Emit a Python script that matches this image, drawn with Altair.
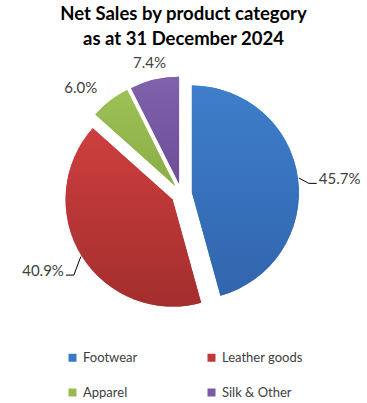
import altair as alt
import pandas as pd

CATEGORIES = ["Footwear", "Leather goods", "Apparel", "Silk & Other"]
SHARES = [45.7, 40.9, 6.0, 7.4]
LABELS = ["45.7%", "40.9%", "6.0%", "7.4%"]
COLORS = ["#3B78C6", "#C03A3A", "#97BA52", "#7A5AA5"]
TOP_COLORS = ["#3E7ECB", "#CD3F3E", "#9DC157", "#8061AC"]
BOTTOM_COLORS = ["#3165AD", "#A32E2D", "#8AAE45", "#6C4E97"]
TITLE = "Net Sales by product  category\nas at 31 December 2024"

W, H = 367, 403
CX, CY = 181.5, 194.0
R = 107
EXPLODE = 10.5
LABEL_R = 128
FONT = "Lato"

df = pd.DataFrame({
    "category": CATEGORIES,
    "share": SHARES,
    "label": LABELS,
    "order": list(range(len(CATEGORIES))),
})

base = (
    alt.Chart(df)
    .transform_window(cum="sum(share)", sort=[alt.SortField("order")], frame=[None, 0])
    .transform_joinaggregate(total="sum(share)")
    .transform_calculate(a0="2*PI*(datum.cum - datum.share)/datum.total")
    .transform_calculate(a1="2*PI*datum.cum/datum.total")
    .transform_calculate(mid="(datum.a0 + datum.a1)/2")
    .transform_calculate(s="sin(datum.mid)")
    .transform_calculate(c="cos(datum.mid)")
    .transform_calculate(ax=f"{CX} + {EXPLODE}*datum.s")
    .transform_calculate(ay=f"{CY} - {EXPLODE}*datum.c")
    .transform_calculate(lx=f"datum.ax + {LABEL_R}*datum.s")
    .transform_calculate(ly=f"datum.ay - {LABEL_R}*datum.c")
    .transform_calculate(ex=f"datum.ax + {R + 1}*datum.s")
    .transform_calculate(ey=f"datum.ay - {R + 1}*datum.c")
    .transform_calculate(sg="datum.s > 0 ? 1 : -1")
    .transform_calculate(px1="datum.lx - 10*datum.sg")
    .transform_calculate(px2="datum.lx - 2*datum.sg")
    .transform_calculate(py="datum.ly + 8")
)

pos = dict(
    x=alt.X("ax:Q", scale=None, axis=None),
    y=alt.Y("ay:Q", scale=None, axis=None),
    theta=alt.Theta("a0:Q", scale=None, stack=None),
    theta2="a1:Q",
)

pie = base.mark_arc(radius=R).encode(
    color=alt.Color(
        "category:N",
        scale=alt.Scale(domain=CATEGORIES, range=COLORS),
        sort=CATEGORIES,
        legend=alt.Legend(
            orient="none", legendX=66, legendY=351, columns=2, direction="horizontal",
            columnPadding=67, rowPadding=21, symbolType="square",
            symbolSize=64, symbolStrokeWidth=0, labelFontSize=13,
            labelFont=FONT, labelColor="#404040", title=None, labelOffset=4,
        ),
    ),
    **pos,
)

shaded = []
for cat, top, bottom in zip(CATEGORIES, TOP_COLORS, BOTTOM_COLORS):
    grad = alt.Gradient(
        gradient="linear",
        stops=[alt.GradientStop(color=top, offset=0), alt.GradientStop(color=bottom, offset=1)],
        x1=0, x2=0, y1=0, y2=1,
    )
    shaded.append(
        base.transform_filter(alt.datum.category == cat)
        .mark_arc(radius=R, fill=grad)
        .encode(**pos)
    )

def label_layer(cond, align):
    return base.transform_filter(cond).mark_text(
        align=align, baseline="middle", fontSize=15, font=FONT, color="#404040", dy=4
    ).encode(
        x=alt.X("lx:Q", scale=None, axis=None),
        y=alt.Y("ly:Q", scale=None, axis=None),
        text="label:N",
    )

lab_left = label_layer("datum.s > 0.5", "left")
lab_right = label_layer("datum.s < -0.5", "right")
lab_center = label_layer("abs(datum.s) <= 0.5", "center")

lead = base.transform_filter("abs(datum.s) > 0.7")
rule1 = lead.mark_rule(color="#000000", strokeWidth=1).encode(
    x=alt.X("ex:Q", scale=None, axis=None), y=alt.Y("ey:Q", scale=None, axis=None),
    x2="px1:Q", y2="py:Q",
)
rule2 = lead.mark_rule(color="#000000", strokeWidth=1).encode(
    x=alt.X("px1:Q", scale=None, axis=None), y=alt.Y("py:Q", scale=None, axis=None),
    x2="px2:Q", y2="py:Q",
)

title = alt.Chart(pd.DataFrame({"t": [TITLE]})).mark_text(
    lineBreak="\n", fontSize=18.5, fontWeight="bold", font=FONT, color="#000000",
    baseline="top", align="center", lineHeight=25,
).encode(x=alt.value(W / 2), y=alt.value(5), text="t:N")

chart = (
    alt.layer(pie, *shaded, rule1, rule2, lab_left, lab_right, lab_center, title)
    .properties(width=W, height=H, autosize=alt.AutoSizeParams(type="none"), padding=0)
    .configure_view(stroke=None)
)

chart.save("out.html", embed_options={"renderer": "svg", "actions": False})
